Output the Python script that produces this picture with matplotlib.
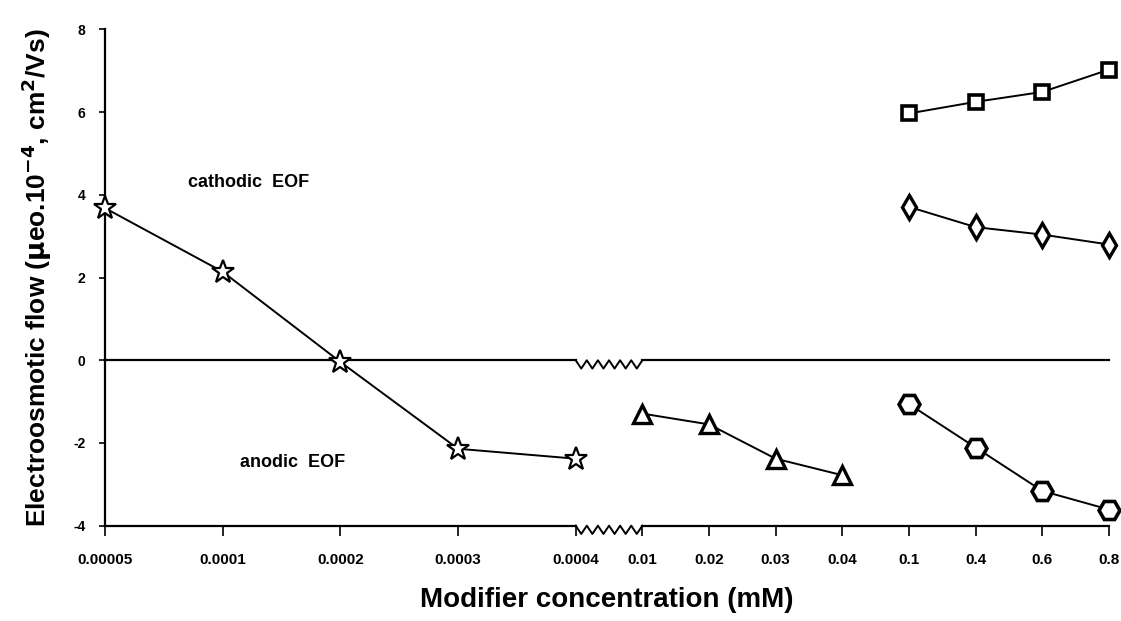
import numpy as np
import matplotlib.pyplot as plt

plt.rcParams['font.family'] = ['Liberation Sans', 'DejaVu Sans']
plt.rcParams['font.weight'] = 'bold'
plt.rcParams['axes.unicode_minus'] = False

# x categories (mM), drawn on a broken axis
conc_labels = ['0.00005', '0.0001', '0.0002', '0.0003', '0.0004',
               '0.01', '0.02', '0.03', '0.04',
               '0.1', '0.4', '0.6', '0.8']

# series values (EOF, 10^-4 cm2/Vs)
star_vals = [3.68, 2.14, -0.04, -2.14, -2.38]          # 0.00005 .. 0.0004
tri_vals = [-1.29, -1.55, -2.38, -2.78]                # 0.01 .. 0.04
square_vals = [5.97, 6.25, 6.49, 7.03]                 # 0.1 .. 0.8
diamond_vals = [3.71, 3.22, 3.04, 2.80]                # 0.1 .. 0.8
hex_vals = [-1.06, -2.11, -3.16, -3.61]                # 0.1 .. 0.8

# low-concentration part is spread wider than the rest
wide = 1.765
pos = np.concatenate([np.arange(5) * wide, 4 * wide + np.arange(1, 9)])

fig = plt.figure(figsize=(11.21, 6.21), dpi=100)
ax = fig.add_axes([0.0937, 0.1535, 0.8956, 0.799])

ymin, ymax = -4, 8
ax.set_xlim(pos[0], pos[-1])
ax.set_ylim(ymin, ymax)

# zero line and bottom axis, both with a zigzag break between 0.0004 and 0.01
def broken_line(y, amp):
    zx = np.linspace(pos[4], pos[5], 13)
    zy = y - amp * (np.arange(13) % 2)
    ax.plot([pos[0], pos[4]], [y, y], color='black', lw=1.6, clip_on=False, zorder=2)
    ax.plot(zx, zy, color='black', lw=1.4, clip_on=False, zorder=2)
    ax.plot([pos[5], pos[-1]], [y, y], color='black', lw=1.6, clip_on=False, zorder=2)

broken_line(0, 0.2)
broken_line(ymin, 0.2)

kw = dict(color='black', lw=1.4, markerfacecolor='white', markeredgecolor='black',
          clip_on=False, zorder=3)
ax.plot(pos[0:5], star_vals, marker='*', markersize=17, markeredgewidth=1.6, **kw)
ax.plot(pos[5:9], tri_vals, marker='^', markersize=13, markeredgewidth=2.4, **kw)
ax.plot(pos[9:13], square_vals, marker='s', markersize=10, markeredgewidth=2.6, **kw)
ax.plot(pos[9:13], diamond_vals, marker='d', markersize=12.5, markeredgewidth=2.4, **kw)
ax.plot(pos[9:13], hex_vals, marker='H', markersize=15, markeredgewidth=2.6, **kw)

ax.text(2.16, 4.3, 'cathodic  EOF', fontsize=13, fontweight='bold', ha='center', va='center')
ax.text(2.82, -2.46, 'anodic  EOF', fontsize=13, fontweight='bold', ha='center', va='center')

for s in ['top', 'right', 'bottom']:
    ax.spines[s].set_visible(False)
ax.spines['left'].set_linewidth(1.6)

ax.set_xticks(pos)
ax.set_xticklabels(conc_labels)
ax.set_yticks(np.arange(-4, 9, 2))
ax.tick_params(axis='x', direction='out', length=7, width=1.2, pad=13, labelsize=11)
ax.tick_params(axis='y', direction='out', length=4, width=1.2, pad=10, labelsize=10)
for lab in ax.get_xticklabels() + ax.get_yticklabels():
    lab.set_fontweight('bold')

ax.set_xlabel('Modifier concentration (mM)', fontsize=20, fontweight='bold', labelpad=14)
ax.set_ylabel(r'Electroosmotic flow ($\mathbf{\mu}$eo.10$^{\mathbf{-4}}$, cm$^{\mathbf{2}}$/Vs)',
              fontsize=19, fontweight='bold', labelpad=14)

fig.savefig('out.png', dpi=100, facecolor='white')
